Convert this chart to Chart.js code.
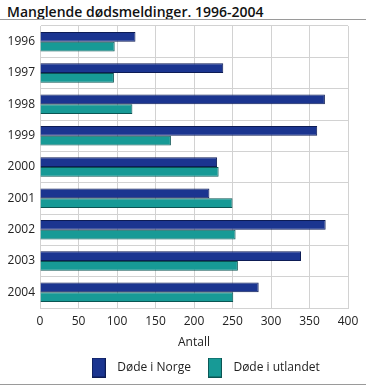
<!DOCTYPE html>
<html>
<head>
<meta charset="utf-8">
<script src="https://cdn.jsdelivr.net/npm/chart.js@4"></script>
<style>
  body { margin: 0; background: #fff; }
  #wrap { position: relative; width: 366px; height: 386px; }
  #title { position: absolute; left: 7px; top: 2px; font: 600 14px "Open Sans", sans-serif; color: #111; white-space: nowrap; }
  .rule { position: absolute; left: 0; width: 366px; height: 1px; background: #9a9a9a; }
  canvas { position: absolute; left: 0; top: 0; }
</style>
</head>
<body>
<div id="wrap">
  <div id="title">Manglende dødsmeldinger. 1996-2004</div>
  <div class="rule" style="top:19px"></div>
  <canvas id="chart" width="366" height="386"></canvas>
  <div class="rule" style="top:384px"></div>
</div>
<script>
// Data
const years = ['1996', '1997', '1998', '1999', '2000', '2001', '2002', '2003', '2004'];
const dodeNorge = [124, 238, 370, 360, 230, 220, 371, 339, 284];
const dodeUtlandet = [97, 96, 120, 170, 232, 250, 254, 257, 251];
const xTicks = [0, 50, 100, 150, 200, 250, 300, 350, 400];

const colors = {
  norge: '#1b3590',
  norgeEdge: '#0d1c55',
  utland: '#179a96',
  utlandEdge: '#0b5553',
  grid: '#d2d2d2',
  text: '#222'
};

const font = { family: '"Open Sans", sans-serif', size: 12 };

// tall legend swatch (14x20) drawn into a small canvas
function swatch(fill, edge) {
  const c = document.createElement('canvas');
  c.width = 14;
  c.height = 20;
  const g = c.getContext('2d');
  g.fillStyle = fill;
  g.fillRect(0, 0, 14, 20);
  g.strokeStyle = edge;
  g.lineWidth = 1;
  g.strokeRect(0.5, 0.5, 13, 19);
  return c;
}

// pin the legend's height and nudge it right, like the reference
const legendPlace = {
  id: 'legendPlace',
  beforeLayout(chart) {
    const lg = chart.legend;
    if (!lg || lg._pinned) return;
    const fit = lg.fit;
    lg.fit = function () { fit.call(this); this.height = 36; };
    lg._pinned = true;
  },
  afterLayout(chart) {
    const lg = chart.legend;
    if (!lg) return;
    lg.left += 29;
    lg.right += 29;
  }
};

new Chart(document.getElementById('chart'), {
  type: 'bar',
  data: {
    labels: years,
    datasets: [{
      label: 'Døde i Norge',
      data: dodeNorge,
      backgroundColor: colors.norge,
      borderColor: colors.norgeEdge,
      borderWidth: 1,
      borderSkipped: 'left',
      pointStyle: swatch(colors.norge, colors.norgeEdge)
    }, {
      label: 'Døde i utlandet',
      data: dodeUtlandet,
      backgroundColor: colors.utland,
      borderColor: colors.utlandEdge,
      borderWidth: 1,
      borderSkipped: 'left',
      pointStyle: swatch(colors.utland, colors.utlandEdge)
    }]
  },
  options: {
    indexAxis: 'y',
    responsive: false,
    animation: false,
    datasets: { bar: { categoryPercentage: 0.62, barPercentage: 1 } },
    layout: { padding: { top: 26, right: 18, left: 0, bottom: 0 } },
    scales: {
      x: {
        min: 0,
        max: 400,
        afterBuildTicks: scale => { scale.ticks = xTicks.map(v => ({ value: v })); },
        afterFit: scale => { scale.height = 42; },
        grid: { color: colors.grid, drawTicks: false },
        border: { color: colors.grid },
        ticks: { color: colors.text, font, padding: 6 },
        title: { display: true, text: 'Antall', color: colors.text, font, padding: { top: 0, bottom: 0 } }
      },
      y: {
        afterFit: scale => { scale.width = 40; },
        grid: { color: colors.grid, drawTicks: false },
        border: { color: colors.grid },
        ticks: { color: colors.text, font, padding: 5 }
      }
    },
    plugins: {
      legend: {
        position: 'bottom',
        labels: {
          color: colors.text,
          font,
          usePointStyle: true,
          pointStyleWidth: 25,
          padding: 11.5
        }
      },
      tooltip: { enabled: false }
    }
  },
  plugins: [legendPlace]
});
</script>
</body>
</html>
